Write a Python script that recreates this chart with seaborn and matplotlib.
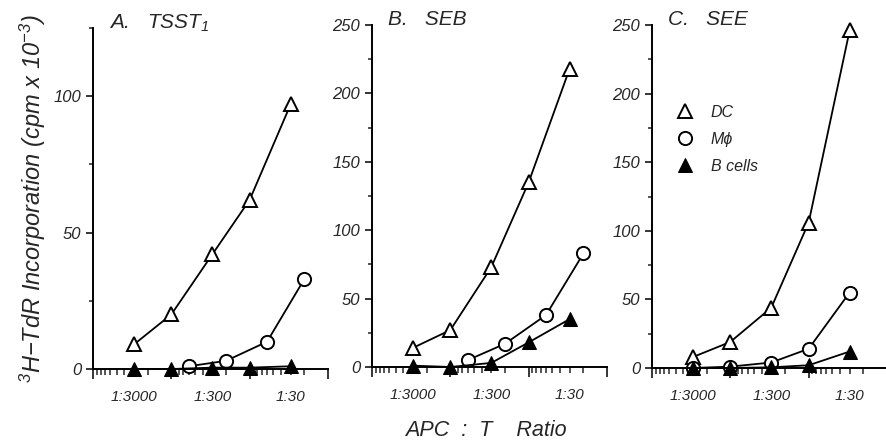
import numpy as np
import pandas as pd
import seaborn as sns
from matplotlib import pyplot as plt

# 数据 (APC : T 比例的分母, 纵轴单位 cpm x 10^-3)
ratio_main = [3000, 1000, 300, 100, 30]
ratio_mac_ab = [600, 200, 60, 20]

# A. TSST1
a_dc = [9, 20, 42, 62, 97]
a_mac = [1, 3, 10, 33]
a_b = [0, 0, 0.5, 0.5, 1]
# B. SEB
b_dc = [14, 27, 73, 135, 218]
b_mac = [5, 17, 38, 83]
b_b = [1, 0, 3, 18, 35]
# C. SEE
c_dc = [8, 19, 44, 106, 246]
c_mac = [0, 1, 4, 14, 55]
c_b = [0, 0, 0.5, 2, 12]

panels = ['A.   TSST$_1$', 'B.   SEB', 'C.   SEE']
series_names = ['DC', 'M\u03d5', 'B cells']
xtick_vals = [3000, 300, 30]
xtick_text = ['1:3000', '1:300', '1:30']

sns.set_style('ticks')
plt.rcParams['font.family'] = ['Liberation Sans', 'DejaVu Sans']
plt.rcParams['font.style'] = 'italic'
plt.rcParams['mathtext.fontset'] = 'custom'
plt.rcParams['mathtext.rm'] = 'Liberation Sans:italic'
plt.rcParams['mathtext.it'] = 'Liberation Sans:italic'
plt.rcParams['mathtext.default'] = 'it'

fig = plt.figure(figsize=(8.87, 4.43), dpi=100)
boxes = [[93/887, 74/443, 235/887, 341/443],
         [372/887, 76/443, 235/887, 342/443],
         [652/887, 75/443, 235/887, 343/443]]
ylims = [125, 250, 250]

data = [(a_dc, a_mac, ratio_mac_ab, a_b),
        (b_dc, b_mac, ratio_mac_ab, b_b),
        (c_dc, c_mac, ratio_main, c_b)]

# 对数刻度上的次刻度位置
minor_pos = np.concatenate([np.arange(2, 10) * d for d in (10, 100, 1000)])
minor_lab = ['' if v not in xtick_vals else xtick_text[xtick_vals.index(v)]
             for v in minor_pos]

for i, (dc, mac, mac_x, bc) in enumerate(data):
    ax = fig.add_axes(boxes[i])
    sns.lineplot(x=ratio_main, y=dc, ax=ax, color='black', lw=1.3,
                 marker='^', markersize=9.5, markerfacecolor='white',
                 markeredgecolor='black', markeredgewidth=1.4,
                 label=series_names[0], sort=False)
    sns.lineplot(x=mac_x, y=mac, ax=ax, color='black', lw=1.3,
                 marker='o', markersize=9.5, markerfacecolor='white',
                 markeredgecolor='black', markeredgewidth=1.4,
                 label=series_names[1], sort=False)
    sns.lineplot(x=ratio_main, y=bc, ax=ax, color='black', lw=1.3,
                 marker='^', markersize=9.5, markerfacecolor='black',
                 markeredgecolor='black', label=series_names[2], sort=False)
    ax.set_xscale('log')
    ax.set_xlim(10000, 10)
    ax.set_ylim(0, ylims[i])
    ax.set_xticks([10000, 1000, 100, 10])
    ax.set_xticklabels([])
    ax.set_xticks(minor_pos, labels=minor_lab, minor=True)
    ax.tick_params(axis='x', which='major', length=7, width=1.3, direction='out')
    ax.tick_params(axis='x', which='minor', length=4, width=1.1, direction='out',
                   labelsize=11, pad=11)
    if ylims[i] == 125:
        ax.set_yticks([0, 50, 100])
        ax.set_yticks([25, 75, 125], minor=True)
    else:
        ax.set_yticks(np.arange(0, 251, 50))
        ax.set_yticks(np.arange(25, 250, 50), minor=True)
    ax.tick_params(axis='y', which='major', length=5, width=1.3, labelsize=12)
    ax.tick_params(axis='y', which='minor', length=3, width=1.1)
    for s in ('top', 'right'):
        ax.spines[s].set_visible(False)
    for s in ('left', 'bottom'):
        ax.spines[s].set_linewidth(1.4)
        ax.spines[s].set_color('black')
    ax.set_xlabel('')
    ax.set_ylabel('')
    ax.set_facecolor('white')
    ax.text(0.07, 1.015, panels[i], transform=ax.transAxes, fontsize=15,
            ha='left', va='center', style='italic')
    if i == 2:
        ax.legend(loc='upper left', bbox_to_anchor=(0.08, 0.81), frameon=False,
                  fontsize=11.5, handlelength=0, handletextpad=1.6,
                  labelspacing=0.75)
        for h in ax.get_legend().legend_handles:
            h.set_linestyle('none')
    else:
        ax.get_legend().remove()
    for ln in ax.lines:
        ln.set_clip_on(False)

fig.text(33/887, 1 - 199/443, '$^3$H\u2212TdR Incorporation (cpm x 10$^{-3}$)',
         rotation=90, ha='center', va='center', fontsize=17)
fig.text(486/887, 1 - 430/443, 'APC  :  T    Ratio', ha='center', va='center',
         fontsize=15.5)

plt.savefig('out.png', dpi=100, facecolor='white')
